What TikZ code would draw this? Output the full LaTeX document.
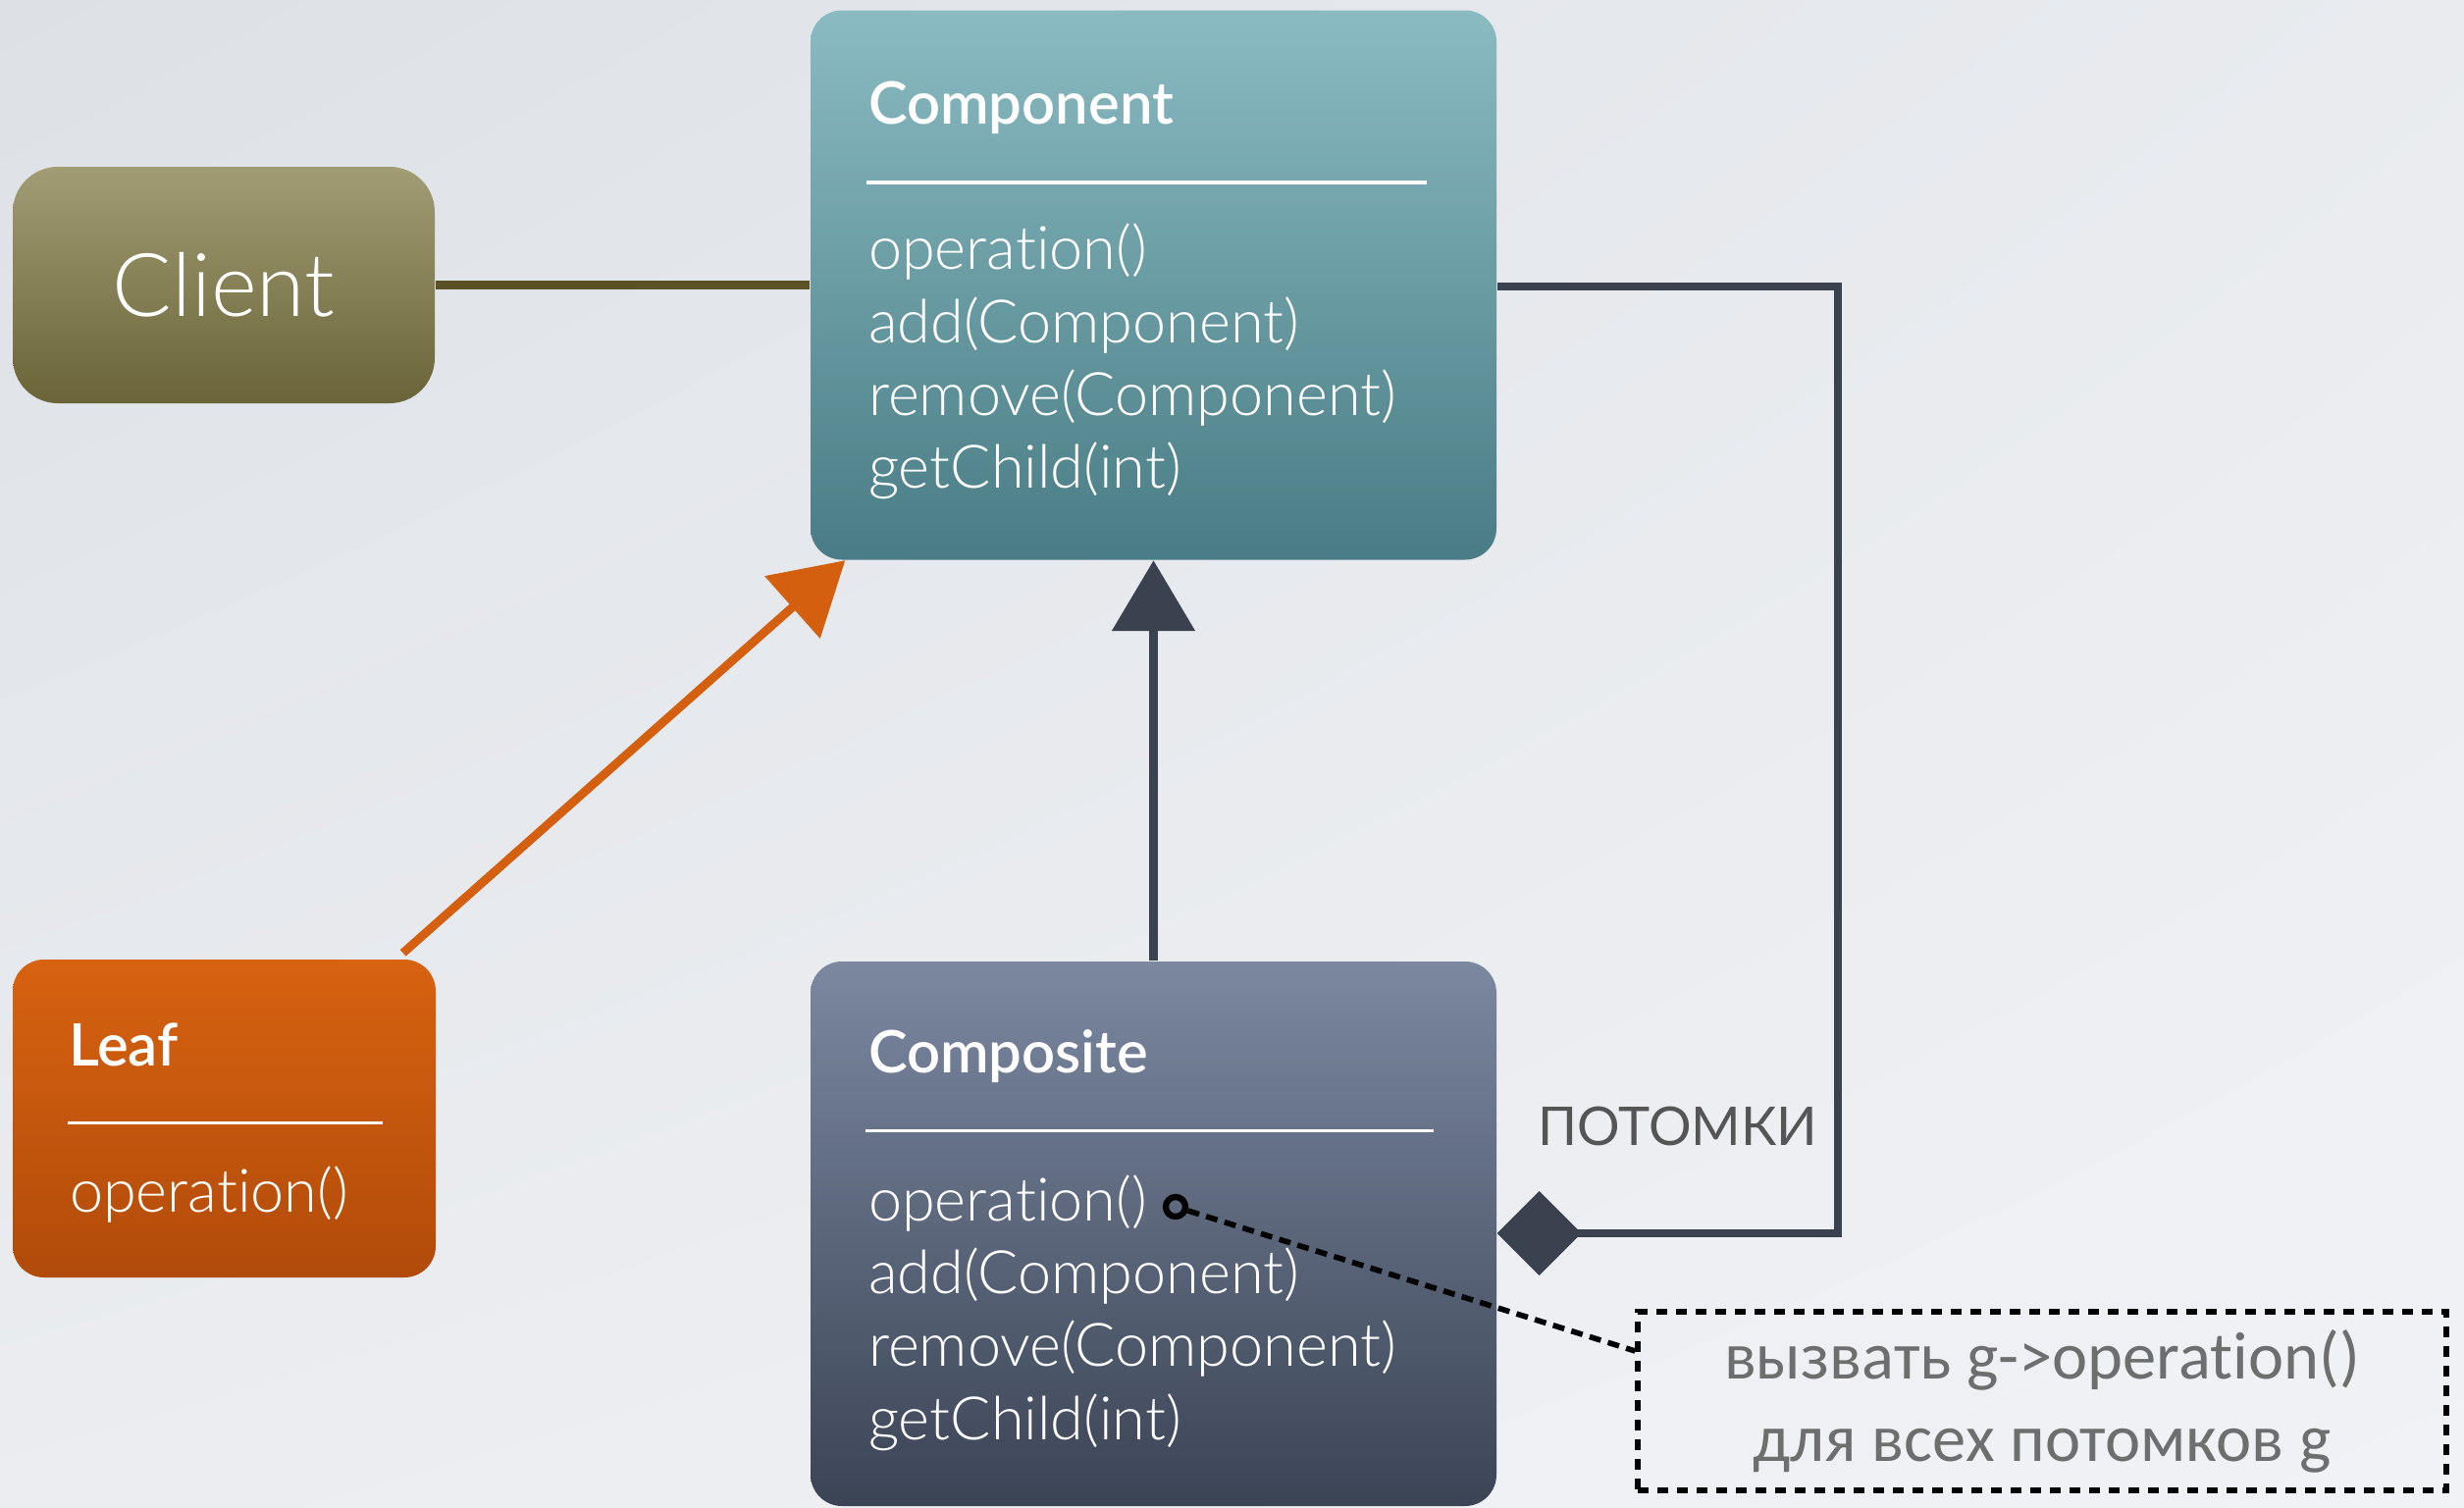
\documentclass[tikz,border=0pt]{standalone}
\usepackage{fontspec}
\setmainfont{Lato}[UprightFont=* Light, BoldFont=* Semibold,
    Ligatures={NoCommon,NoContextual}, Contextuals=NoAlternate]
\newfontfamily\regfont{Lato}[Ligatures={NoCommon,NoContextual}, Contextuals=NoAlternate]
\newfontfamily\notefont{Carlito}[Ligatures={NoCommon,NoContextual}, Contextuals=NoAlternate]
\usetikzlibrary{arrows.meta,positioning,calc,shadings}

\definecolor{bgA}{HTML}{DDE1E6}
\definecolor{bgB}{HTML}{F1F2F5}
\definecolor{clientTop}{HTML}{A19C74}
\definecolor{clientBot}{HTML}{6A6438}
\definecolor{compTop}{HTML}{8ABBC2}
\definecolor{compBot}{HTML}{4A7C85}
\definecolor{leafTop}{HTML}{D76210}
\definecolor{leafBot}{HTML}{B14B0A}
\definecolor{cmpsTop}{HTML}{7B88A0}
\definecolor{cmpsBot}{HTML}{3B4455}
\definecolor{olive}{HTML}{5A5226}
\definecolor{rust}{HTML}{D4600F}
\definecolor{slate}{HTML}{3A4250}
\definecolor{ink}{HTML}{555555}
\definecolor{noteink}{HTML}{6E6E6E}

\tikzset{
    classbox/.style={
        rounded corners=3.2mm,
        inner sep=0pt,
        draw=none
    },
    title/.style={
        anchor=base west,
        inner sep=0pt,
        text=white,
        font=\fontsize{17}{20}\selectfont\bfseries
    },
    meth/.style={
        anchor=base west,
        inner sep=0pt,
        text=white,
        font=\fontsize{17.4}{21}\selectfont
    },
    rule/.style={
        white,
        line width=1pt
    },
    assoc/.style={
        olive,
        line width=2.4pt
    },
    realize/.style={
        rust,
        line width=2.5pt,
        -{Triangle[length=7.2mm, width=8.3mm]}
    },
    inherit/.style={
        slate,
        line width=2.6pt,
        -{Triangle[length=7.2mm, width=8.3mm]}
    },
    aggreg/.style={
        slate,
        line width=2.4pt,
        {Diamond[length=8.6mm, width=8.6mm]}-
    },
    notebox/.style={
        draw=black,
        line width=1.5pt,
        dash pattern=on 1.1mm off 0.9mm,
        minimum width=82.4mm,
        minimum height=18.2mm,
        align=center,
        text=noteink,
        font=\notefont\fontsize{19.5}{23.8}\selectfont
    },
    noteline/.style={
        black,
        line width=1.6pt,
        dash pattern=on 1.2mm off 0.75mm
    },
    lbl/.style={
        text=ink,
        inner sep=0pt,
        font=\regfont\fontsize{15.5}{20}\selectfont
    }
}

\begin{document}
\begin{tikzpicture}[x=0.1mm, y=-0.1mm]

% backdrop
\clip (0,0) rectangle (2511,1537);
\shade[upper left=bgA, upper right=bgB!60!bgA, lower left=bgB!70!bgA, lower right=bgB]
    (0,0) rectangle (2511,1537);

% classes
\node[classbox, rounded corners=4.6mm, minimum width=43mm, minimum height=24.1mm,
    top color=clientTop, bottom color=clientBot] (client) at (228,290.5) {};
\node[text=white, font=\fontsize{25.5}{30}\selectfont] (clientT) at (client) {Client};

\node[classbox, minimum width=69.9mm, minimum height=56mm,
    top color=compTop, bottom color=compBot] (comp) at (1175.5,290.5) {};
\node[title] (compT) at ($(comp.north west)+(59,117)$) {Component};
\draw[rule] ($(comp.north west)+(58,176)$) -- ($(comp.north east)+(-72,176)$);
\foreach \m [count=\i] in {operation(), add(Component), remove(Component), getChild(int)}
    \node[meth] (comp-m\i) at ($(comp.north west)+(59,{265+74.3*(\i-1)})$) {\m};

\node[classbox, minimum width=43.1mm, minimum height=32.4mm,
    top color=leafTop, bottom color=leafBot] (leaf) at (228.5,1140) {};
\node[title] (leafT) at ($(leaf.north west)+(57,109)$) {Leaf};
\draw[rule] ($(leaf.north west)+(57,167)$) -- ($(leaf.north west)+(378,167)$);
\node[meth] (leaf-m1) at ($(leaf.north west)+(58,258)$) {operation()};

\node[classbox, minimum width=69.9mm, minimum height=55.5mm,
    top color=cmpsTop, bottom color=cmpsBot] (cmps) at (1175.5,1257.5) {};
\node[title] (cmpsT) at ($(cmps.north west)+(59,114)$) {Composite};
\draw[rule] ($(cmps.north west)+(57,173)$) -- ($(cmps.north east)+(-65,173)$);
\foreach \m [count=\i] in {operation(), add(Component), remove(Component), getChild(int)}
    \node[meth] (cmps-m\i) at ($(cmps.north west)+(59,{265+74.3*(\i-1)})$) {\m};

% note
\node[notebox] (note) at (2081,1428) {вызвать g->operation()\\для всех потомков g};
\node[circle, draw=black, line width=1.8pt, inner sep=0pt, minimum size=2mm]
    (hook) at (1198,1230) {};

% connectors
\coordinate (turnA) at (1873,292);
\coordinate (turnB) at (1873,1257);

\draw[assoc] (client.east) -- (comp.west);
\draw[realize] ([xshift=-3.4mm,yshift=0.6mm]leaf.north east) -- ([xshift=3.6mm]comp.south west);
\draw[inherit] (cmps.north) -- (comp.south);
\draw[aggreg] (cmps.east |- turnB) -- (turnB) -- (turnA) -- (comp.east |- turnA);
\node[lbl, anchor=base east] (kids) at ($(turnB)+(-20,-90)$) {ПОТОМКИ};
\draw[noteline] (hook) -- ([yshift=5.1mm]note.west);

\end{tikzpicture}
\end{document}
